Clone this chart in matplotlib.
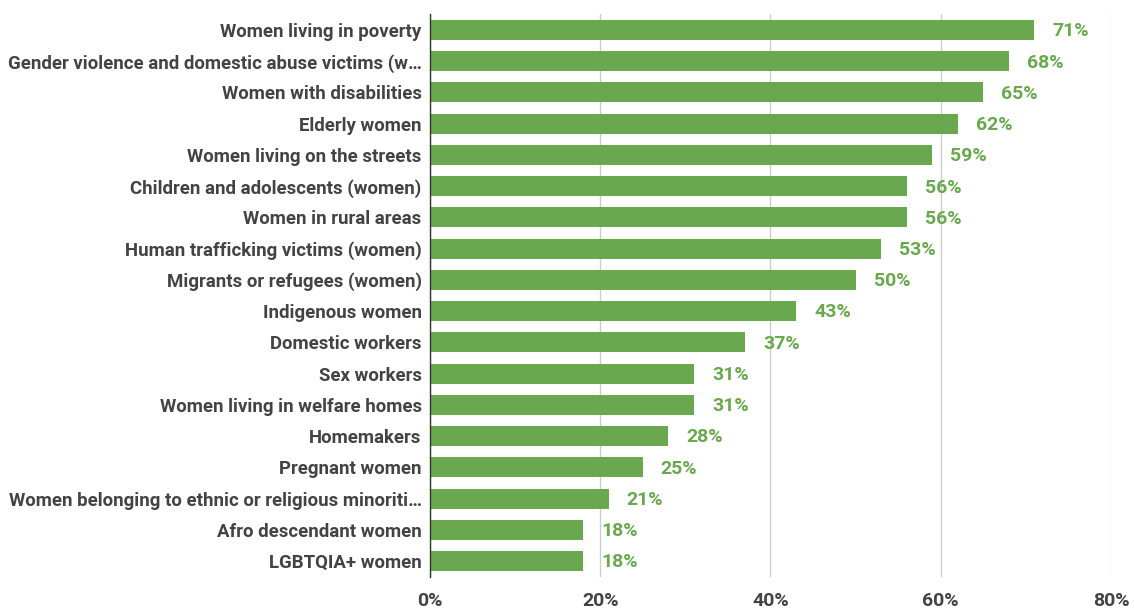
import matplotlib.pyplot as plt

plt.rcParams['font.family'] = ['Roboto', 'DejaVu Sans']

categories = [
    'Women living in poverty',
    'Gender violence and domestic abuse victims (w…',
    'Women with disabilities',
    'Elderly women',
    'Women living on the streets',
    'Children and adolescents (women)',
    'Women in rural areas',
    'Human trafficking victims (women)',
    'Migrants or refugees (women)',
    'Indigenous women',
    'Domestic workers',
    'Sex workers',
    'Women living in welfare homes',
    'Homemakers',
    'Pregnant women',
    'Women belonging to ethnic or religious minoriti…',
    'Afro descendant women',
    'LGBTQIA+ women',
]
values = [71, 68, 65, 62, 59, 56, 56, 53, 50, 43, 37, 31, 31, 28, 25, 21, 18, 18]
xticks = [0, 20, 40, 60, 80]

green = '#6aa84f'
textc = '#434343'

fig = plt.figure(figsize=(11.34, 6.09), dpi=100)
ax = fig.add_axes([0.3792, 0.0532, 0.9797 - 0.3792, 0.9764 - 0.0532])

pos = list(range(len(categories)))
ax.barh(pos, values, height=0.64, color=green, zorder=3)
for p, v in zip(pos, values):
    ax.annotate(f'{v}%', (v, p), xytext=(13, -1), textcoords='offset points',
                va='center', ha='left', color=green, fontsize=14, fontweight='bold')

ax.set_xlim(0, 80)
ax.set_ylim(len(categories) - 0.5, -0.5)
ax.set_yticks(pos)
ax.set_yticklabels(categories, fontsize=13.4, fontweight='bold', color=textc)
ax.set_xticks(xticks)
ax.set_xticklabels([f'{t}%' for t in xticks], fontsize=14, fontweight='bold', color=textc)
ax.tick_params(axis='both', length=0)
ax.tick_params(axis='y', pad=6)
ax.tick_params(axis='x', pad=11)

ax.grid(axis='x', color='#cccccc', linewidth=1, zorder=0)
for s in ['top', 'right', 'bottom']:
    ax.spines[s].set_visible(False)
ax.spines['left'].set_color('#333333')
ax.spines['left'].set_linewidth(1)
ax.spines['left'].set_zorder(4)

fig.savefig('out.png', dpi=100)
